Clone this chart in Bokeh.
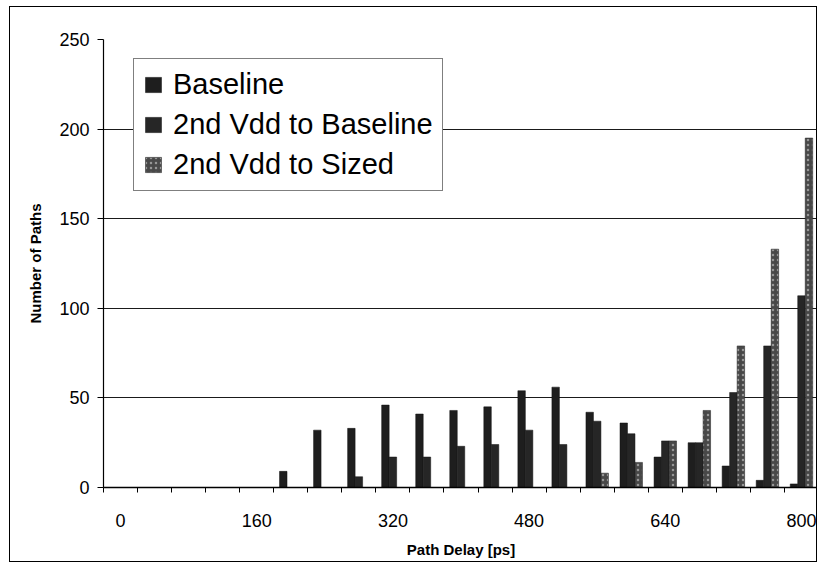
from bokeh.plotting import figure
from bokeh.models import (Range1d, FixedTicker, Legend, LegendItem, ColumnDataSource)
from bokeh.transform import dodge
from bokeh.embed import file_html
from bokeh.resources import INLINE

# ---- data ----
delays = [0, 40, 80, 120, 160, 200, 240, 280, 320, 360, 400,
          440, 480, 520, 560, 600, 640, 680, 720, 760, 800]
baseline = [0, 0, 0, 0, 0, 9, 32, 33, 46, 41, 43,
            45, 54, 56, 42, 36, 17, 25, 12, 4, 2]
vdd_to_baseline = [0, 0, 0, 0, 0, 0, 0, 6, 17, 17, 23,
                   24, 32, 24, 37, 30, 26, 25, 53, 79, 107]
vdd_to_sized = [0, 0, 0, 0, 0, 0, 0, 0, 0, 0, 0,
                0, 0, 0, 8, 14, 26, 43, 79, 133, 195]
series_names = ["Baseline", "2nd Vdd to Baseline", "2nd Vdd to Sized"]
x_tick_values = [0, 160, 320, 480, 640, 800]
y_tick_values = [0, 50, 100, 150, 200, 250]

bin_width = delays[1] - delays[0]
src = ColumnDataSource(dict(delay=delays, base=baseline,
                            vb=vdd_to_baseline, vs=vdd_to_sized))

FONT = "Liberation Sans"

# figure placed ~10px from left / 7px from top so that its CSS border
# mimics the outer chart frame of the reference
p = figure(width=808, height=556,
           x_range=Range1d(delays[0] - bin_width / 2, delays[-1] + bin_width / 2),
           y_range=Range1d(0, 250),
           output_backend="svg", toolbar_location=None,
           min_border_left=93, min_border_right=0,
           min_border_top=32, min_border_bottom=76)
p.styles = {"border": "1.5px solid black", "margin-left": "9px", "margin-top": "6px"}
p.background_fill_color = "white"
p.border_fill_color = "white"
p.outline_line_color = None

bw = bin_width * 0.22
r1 = p.vbar(x=dodge("delay", -bw, range=p.x_range), top="base", width=bw,
            source=src, fill_color="#1e1e1e", line_color="#111111", line_width=0.5)
r2 = p.vbar(x=dodge("delay", 0, range=p.x_range), top="vb", width=bw,
            source=src, fill_color="#262626", line_color="#111111", line_width=0.5)
r3 = p.vbar(x=dodge("delay", bw, range=p.x_range), top="vs", width=bw,
            source=src, fill_color="#484848", line_color="#222222", line_width=0.5,
            hatch_pattern=".", hatch_color="#b8b8b8", hatch_alpha=0.7, hatch_scale=5)

# x axis
boundaries = [d - bin_width / 2 for d in delays] + [delays[-1] + bin_width / 2]
p.xaxis.ticker = FixedTicker(ticks=x_tick_values, minor_ticks=boundaries)
p.xaxis.major_tick_out = 0
p.xaxis.major_tick_in = 0
p.xaxis.minor_tick_out = 5
p.xaxis.minor_tick_in = 0
p.xaxis.minor_tick_line_color = "black"
p.xaxis.axis_line_color = "black"
p.xaxis.axis_line_width = 1.5
p.xaxis.major_label_standoff = 21
p.xaxis.major_label_text_font = FONT
p.xaxis.major_label_text_font_size = "18px"
p.xaxis.major_label_text_color = "black"
p.xaxis.axis_label = "Path Delay [ps]"
p.xaxis.axis_label_text_font = FONT
p.xaxis.axis_label_text_font_size = "15px"
p.xaxis.axis_label_text_font_style = "bold"
p.xaxis.axis_label_text_color = "black"
p.xaxis.axis_label_standoff = 11

# y axis
p.yaxis.ticker = FixedTicker(ticks=y_tick_values)
p.yaxis.major_tick_out = 6
p.yaxis.major_tick_in = 0
p.yaxis.minor_tick_out = 0
p.yaxis.minor_tick_in = 0
p.yaxis.major_tick_line_color = "black"
p.yaxis.axis_line_color = "black"
p.yaxis.axis_line_width = 1.2
p.yaxis.major_label_standoff = 8
p.yaxis.major_label_text_font = FONT
p.yaxis.major_label_text_font_size = "18px"
p.yaxis.major_label_text_color = "black"
p.yaxis.axis_label = "Number of Paths"
p.yaxis.axis_label_text_font = FONT
p.yaxis.axis_label_text_font_size = "15px"
p.yaxis.axis_label_text_font_style = "bold"
p.yaxis.axis_label_text_color = "black"
p.yaxis.axis_label_standoff = 12

p.xgrid.grid_line_color = None
p.ygrid.grid_line_color = "#1a1a1a"
p.ygrid.grid_line_width = 1.2

legend = Legend(items=[LegendItem(label=series_names[0], renderers=[r1]),
                       LegendItem(label=series_names[1], renderers=[r2]),
                       LegendItem(label=series_names[2], renderers=[r3])],
                location=(30, 296), margin=0,
                padding=9, spacing=7,
                glyph_width=20, glyph_height=19, label_height=28,
                label_standoff=10,
                label_text_font=FONT, label_text_font_size="29px",
                label_text_color="black",
                border_line_color="black", border_line_width=1.5,
                background_fill_color="white", background_fill_alpha=1.0)
p.add_layout(legend)

open("out.html", "w").write(file_html(p, INLINE))
